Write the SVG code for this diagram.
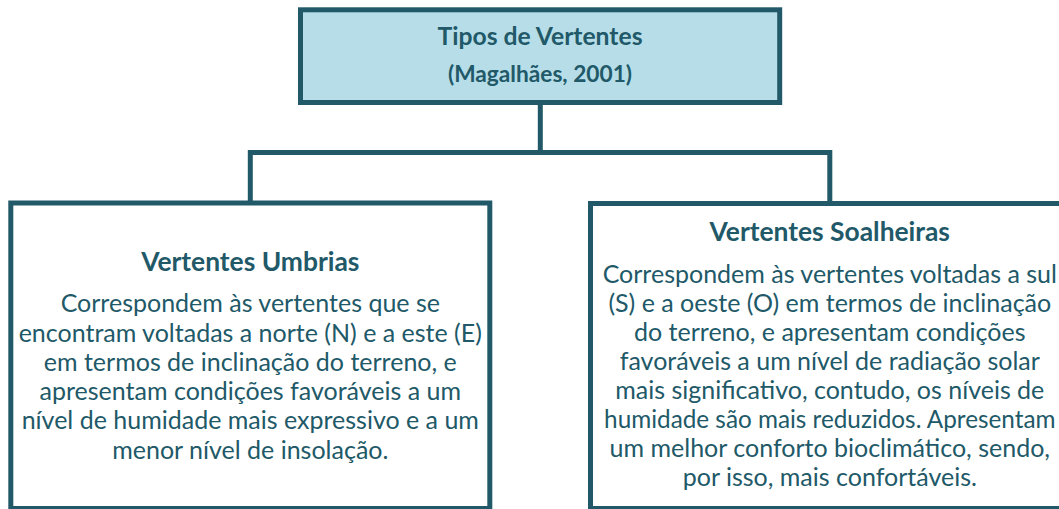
<svg xmlns="http://www.w3.org/2000/svg" width="1059" height="509" viewBox="0 0 1059 509">
<style>
.box{stroke:#215968;stroke-width:5;}
.conn{fill:none;stroke:#215968;stroke-width:5;stroke-linecap:square;stroke-linejoin:miter;}
text{font-family:Lato,"Open Sans","Liberation Sans",sans-serif;fill:#215968;text-anchor:middle;}
.t1{font-weight:bold;font-size:24.7px;}
.t2{font-weight:bold;font-size:22.7px;}
.h{font-weight:bold;font-size:26.4px;}
.b{font-size:25px;}
.bs{font-size:24.3px;}
</style>
<rect width="1059" height="509" fill="#ffffff"/>
<g id="connectors">
<path class="conn" d="M540.3,102.5 V152.5"/>
<path class="conn" d="M250.3,203 V152.5 H829.8 V203"/>
</g>
<g id="root">
<rect class="box" x="300.5" y="9.8" width="479.2" height="92.7" fill="#b7dee8"/>
<text class="t1" x="540" y="45">Tipos de Vertentes</text>
<text class="t2" x="540" y="82">(Magalhães, 2001)</text>
</g>
<g id="umbrias">
<rect class="box" x="10.8" y="203" width="479" height="305.5" fill="#ffffff"/>
<text class="h" x="250.3" y="271">Vertentes Umbrias</text>
<text class="b" x="250.3" y="312.3">Correspondem às vertentes que se</text>
<text class="b" x="250.3" y="341.5">encontram voltadas a norte (N) e a este (E)</text>
<text class="b" x="250.3" y="370.8">em termos de inclinação do terreno, e</text>
<text class="b" x="250.3" y="400">apresentam condições favoráveis a um</text>
<text class="b" x="250.3" y="429.3">nível de humidade mais expressivo e a um</text>
<text class="b" x="250.3" y="458.5">menor nível de insolação.</text>
</g>
<g id="soalheiras">
<rect class="box" x="590.5" y="203.5" width="479" height="305" fill="#ffffff"/>
<text class="h" x="829.8" y="240.7">Vertentes Soalheiras</text>
<text class="b" x="829.8" y="282.7">Correspondem às vertentes voltadas a sul</text>
<text class="b" x="829.8" y="311.7">(S) e a oeste (O) em termos de inclinação</text>
<text class="b" x="829.8" y="340.8">do terreno, e apresentam condições</text>
<text class="b" x="829.8" y="369.8">favoráveis a um nível de radiação solar</text>
<text class="b" x="829.8" y="398.9">mais significativo, contudo, os níveis de</text>
<text class="bs" x="829.8" y="427.9">humidade são mais reduzidos. Apresentam</text>
<text class="b" x="829.8" y="457">um melhor conforto bioclimático, sendo,</text>
<text class="b" x="829.8" y="486">por isso, mais confortáveis.</text>
</g>
</svg>
